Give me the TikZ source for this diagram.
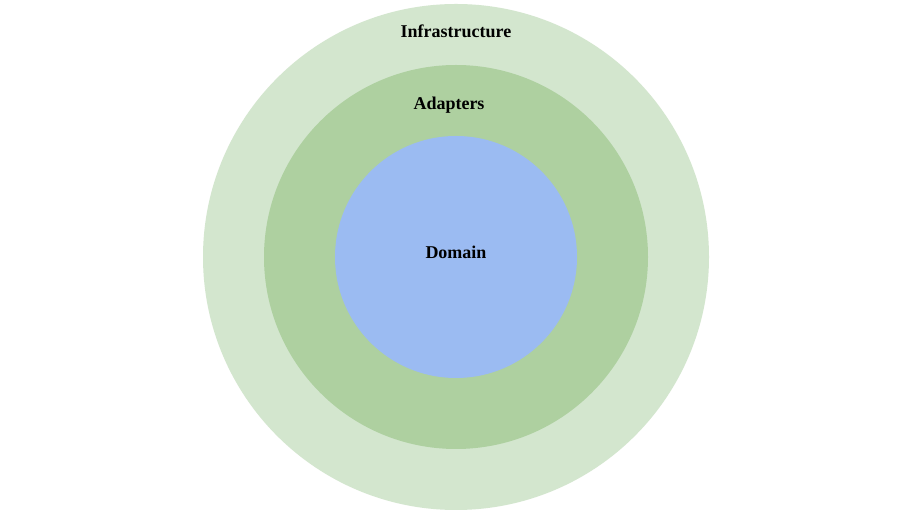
\documentclass[tikz,border=0pt]{standalone}
\usepackage{fontspec}
\setmainfont{Liberation Serif}
\definecolor{outerc}{HTML}{D3E6CE}
\definecolor{midc}{HTML}{AED0A0}
\definecolor{innerc}{HTML}{9BBBF2}
\begin{document}
\begin{tikzpicture}[x=1pt,y=1pt,lbl/.style={font=\fontsize{18}{20}\selectfont\bfseries,text=black}]
\useasboundingbox (0,0) rectangle (913,513);
\fill[white] (0,0) rectangle (913,513);
\node[circle,fill=outerc,minimum size=506pt,inner sep=0] (outer) at (456,256) {};
\node[circle,fill=midc,minimum size=384pt,inner sep=0] (mid) at (456,256) {};
\node[circle,fill=innerc,minimum size=242pt,inner sep=0] (inner) at (456,256) {};
\node[lbl] (t1) at (456,482) {Infrastructure};
\node[lbl] (t2) at (449,408) {Adapters};
\node[lbl] (t3) at (456,261) {Domain};
\end{tikzpicture}
\end{document}
